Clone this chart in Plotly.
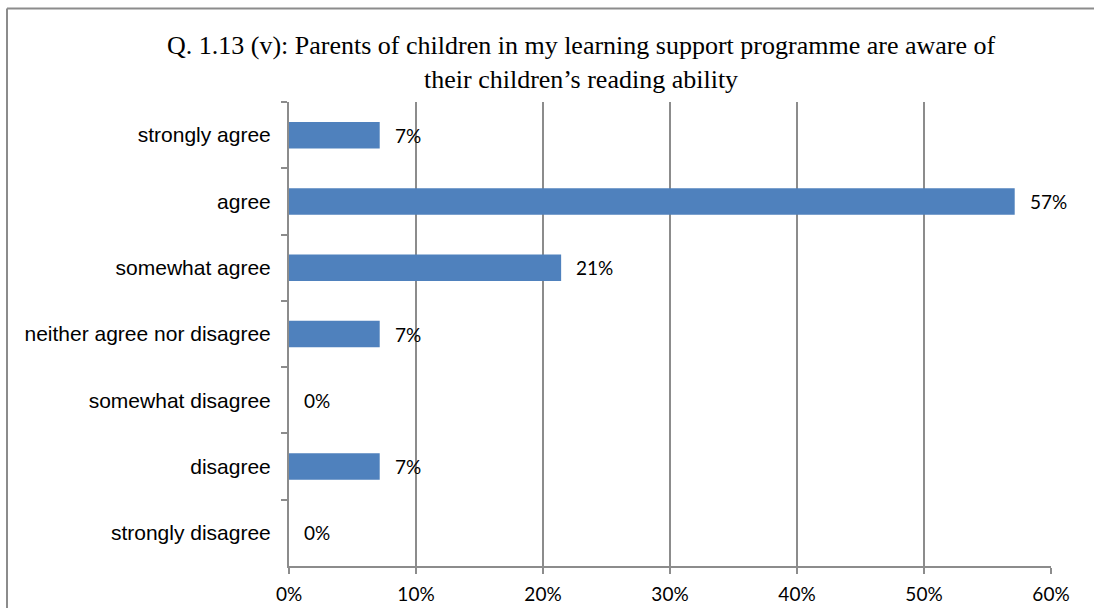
import plotly.graph_objects as go

# Survey responses (share of respondents, n = 14)
categories = [
    "strongly agree",
    "agree",
    "somewhat agree",
    "neither agree nor disagree",
    "somewhat disagree",
    "disagree",
    "strongly disagree",
]
shares = [1 / 14, 8 / 14, 3 / 14, 1 / 14, 0.0, 1 / 14, 0.0]
x_ticks = [0.0, 0.1, 0.2, 0.3, 0.4, 0.5, 0.6]
x_tick_labels = ["0%", "10%", "20%", "30%", "40%", "50%", "60%"]

title_text = ("Q. 1.13 (v): Parents of children in my learning support programme are aware of"
              "<br>their children\u2019s reading ability")

BAR = "#4F81BD"
GRID = "#8C8C8C"
W, H = 1094, 608
L, R, T, B = 289, 43, 102, 42
pw, ph = W - L - R, H - T - B


def px_x(p):
    return (p - L) / pw


def px_y(p):
    return (H - B - p) / ph


fig = go.Figure(
    go.Bar(
        x=shares,
        y=categories,
        orientation="h",
        marker=dict(color=BAR, line=dict(width=0)),
        width=0.4,
        hoverinfo="skip",
    )
)

# value labels to the right of each bar
for cat, v in zip(categories, shares):
    fig.add_annotation(
        x=v, y=cat, xref="x", yref="y",
        text=f"{round(v * 100)}%",
        showarrow=False, xanchor="left", yanchor="middle", xshift=13,
        font=dict(family="Lato", size=19, color="#000000"),
    )

# chart title
fig.add_annotation(
    x=px_x(581), y=px_y(63), xref="paper", yref="paper",
    text=title_text, showarrow=False, xanchor="center", yanchor="middle",
    align="center",
    font=dict(family="Liberation Serif", size=26, color="#000000"),
)

# chart-area frame (top and left edges)
fig.add_shape(type="line", xref="paper", yref="paper",
              x0=px_x(7), x1=px_x(W + 20), y0=px_y(8.5), y1=px_y(8.5),
              line=dict(color=GRID, width=2))
fig.add_shape(type="line", xref="paper", yref="paper",
              x0=px_x(7), x1=px_x(7), y0=px_y(8.5), y1=px_y(H + 20),
              line=dict(color=GRID, width=2))

fig.update_layout(
    width=W, height=H,
    margin=dict(l=L, r=R, t=T, b=B),
    paper_bgcolor="white", plot_bgcolor="white",
    showlegend=False,
    bargap=0.6,
    xaxis=dict(
        range=[0, 0.6], tickvals=x_ticks, ticktext=x_tick_labels,
        showgrid=True, gridcolor=GRID, gridwidth=2,
        showline=True, linecolor=GRID, linewidth=2,
        ticks="outside", ticklen=6, tickcolor=GRID, tickwidth=2,
        ticklabelstandoff=4,
        tickfont=dict(family="Lato", size=19, color="#000000"),
        zeroline=False, fixedrange=True, automargin=False,
    ),
    yaxis=dict(
        categoryorder="array", categoryarray=categories, autorange="reversed",
        tickson="boundaries",
        showgrid=False,
        showline=True, linecolor=GRID, linewidth=2,
        ticks="outside", ticklen=6, tickcolor=GRID, tickwidth=2,
        ticklabelstandoff=12,
        tickfont=dict(family="Liberation Sans", size=21, color="#000000"),
        fixedrange=True, automargin=False,
    ),
)

fig.write_html("out.html")
